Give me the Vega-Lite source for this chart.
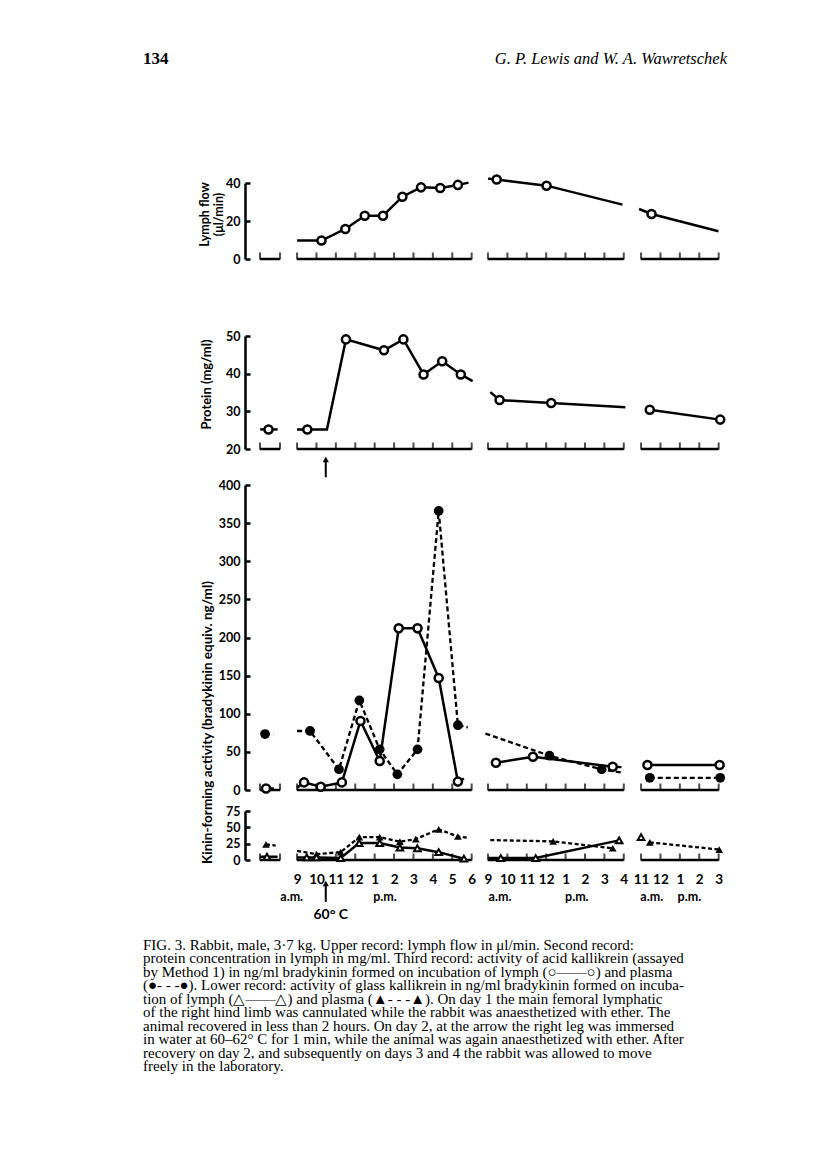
{
 "$schema": "https://vega.github.io/schema/vega-lite/v6.json",
 "background": "white",
 "padding": {"left": 143, "top": 50, "right": 10, "bottom": 10},
 "autosize": {"type": "pad"},
 "spacing": 0,
 "bounds": "flush",
 "resolve": {"scale": {"x": "independent", "y": "independent"}},
 "config": {
  "view": {"stroke": null},
  "axis": {"grid": false, "labelFont": "Lato", "titleFont": "Lato", "labelColor": "black", "titleColor": "black", "domainColor": "black", "tickColor": "black", "labelOverlap": false, "labelBound": false}
 },
 "datasets": {
  "seg": [{"t": -1.91, "t2": -0.88}, {"t": 0, "t2": 9}, {"t": 9.84, "t2": 16.84}, {"t": 17.73, "t2": 21.73}],
  "ticks": [{"t": -1.91}, {"t": -0.88}, {"t": 0}, {"t": 1}, {"t": 2}, {"t": 3}, {"t": 4}, {"t": 5}, {"t": 6}, {"t": 7}, {"t": 8}, {"t": 9}, {"t": 9.84}, {"t": 10.84}, {"t": 11.84}, {"t": 12.84}, {"t": 13.84}, {"t": 14.84}, {"t": 15.84}, {"t": 16.84}, {"t": 17.73}, {"t": 18.73}, {"t": 19.73}, {"t": 20.73}, {"t": 21.73}],
  "heat": [{"t": 1.48, "note": "60° C"}],
  "lymph": [
   {"d": 2, "t": 0, "v": 9.7, "m": 0}, {"d": 2, "t": 1.26, "v": 9.7, "m": 1}, {"d": 2, "t": 2.49, "v": 15.8, "m": 1}, {"d": 2, "t": 3.49, "v": 22.8, "m": 1}, {"d": 2, "t": 4.43, "v": 22.8, "m": 1}, {"d": 2, "t": 5.43, "v": 32.8, "m": 1}, {"d": 2, "t": 6.39, "v": 37.7, "m": 1}, {"d": 2, "t": 7.38, "v": 37.4, "m": 1}, {"d": 2, "t": 8.29, "v": 39, "m": 1}, {"d": 2, "t": 8.84, "v": 40.2, "m": 0},
   {"d": 3, "t": 9.84, "v": 42.3, "m": 0}, {"d": 3, "t": 10.29, "v": 41.8, "m": 1}, {"d": 3, "t": 12.86, "v": 38.6, "m": 1}, {"d": 3, "t": 16.77, "v": 28.6, "m": 0},
   {"d": 4, "t": 17.63, "v": 26.3, "m": 0}, {"d": 4, "t": 18.27, "v": 23.7, "m": 1}, {"d": 4, "t": 21.72, "v": 14.6, "m": 0}
  ],
  "protein": [
   {"d": 1, "t": -1.9, "v": 25.2, "m": 0}, {"d": 1, "t": -1.47, "v": 25.2, "m": 1}, {"d": 1, "t": -1.0, "v": 25.2, "m": 0},
   {"d": 2, "t": 0, "v": 25.2, "m": 0}, {"d": 2, "t": 0.53, "v": 25.2, "m": 1}, {"d": 2, "t": 1.54, "v": 25.2, "m": 0}, {"d": 2, "t": 2.52, "v": 49.1, "m": 1}, {"d": 2, "t": 4.48, "v": 46.2, "m": 1}, {"d": 2, "t": 5.48, "v": 49.1, "m": 1}, {"d": 2, "t": 6.52, "v": 39.8, "m": 1}, {"d": 2, "t": 7.48, "v": 43.3, "m": 1}, {"d": 2, "t": 8.44, "v": 39.8, "m": 1}, {"d": 2, "t": 9.05, "v": 38.0, "m": 0},
   {"d": 3, "t": 9.96, "v": 35.1, "m": 0}, {"d": 3, "t": 10.44, "v": 33.0, "m": 1}, {"d": 3, "t": 13.1, "v": 32.2, "m": 1}, {"d": 3, "t": 16.92, "v": 31.1, "m": 0},
   {"d": 4, "t": 18.18, "v": 30.4, "m": 1}, {"d": 4, "t": 21.81, "v": 27.8, "m": 1}
  ],
  "kl": [
   {"d": 1, "t": -1.6, "v": 2, "m": 1}, {"d": 1, "t": -1.2, "v": 2, "m": 0},
   {"d": 2, "t": 0, "v": 3, "m": 0}, {"d": 2, "t": 0.36, "v": 10, "m": 1}, {"d": 2, "t": 1.22, "v": 4.3, "m": 1}, {"d": 2, "t": 2.31, "v": 10, "m": 1}, {"d": 2, "t": 3.27, "v": 90.5, "m": 1}, {"d": 2, "t": 4.26, "v": 38, "m": 1}, {"d": 2, "t": 5.24, "v": 212, "m": 1}, {"d": 2, "t": 6.21, "v": 212, "m": 1}, {"d": 2, "t": 7.3, "v": 147, "m": 1}, {"d": 2, "t": 8.29, "v": 11, "m": 1}, {"d": 2, "t": 8.6, "v": 15, "m": 0},
   {"d": 3, "t": 10.25, "v": 35.8, "m": 1}, {"d": 3, "t": 12.16, "v": 43.7, "m": 1}, {"d": 3, "t": 16.27, "v": 30.6, "m": 1}, {"d": 3, "t": 16.72, "v": 30, "m": 0},
   {"d": 4, "t": 18.06, "v": 32.8, "m": 1}, {"d": 4, "t": 21.78, "v": 32.8, "m": 1}
  ],
  "kp": [
   {"d": 1, "t": -1.65, "v": 73.4, "m": 1}, {"d": 1, "t": -1.23, "v": 73.4, "m": 0},
   {"d": 2, "t": 0, "v": 77.4, "m": 0}, {"d": 2, "t": 0.67, "v": 77.4, "m": 1}, {"d": 2, "t": 2.16, "v": 27, "m": 1}, {"d": 2, "t": 3.21, "v": 117.5, "m": 1}, {"d": 2, "t": 4.26, "v": 53.3, "m": 1}, {"d": 2, "t": 5.17, "v": 20.5, "m": 1}, {"d": 2, "t": 6.21, "v": 53.3, "m": 1}, {"d": 2, "t": 7.3, "v": 366, "m": 1}, {"d": 2, "t": 8.29, "v": 85, "m": 1}, {"d": 2, "t": 8.8, "v": 82, "m": 0},
   {"d": 3, "t": 9.71, "v": 74, "m": 0}, {"d": 3, "t": 13.01, "v": 45, "m": 1}, {"d": 3, "t": 15.7, "v": 27, "m": 1}, {"d": 3, "t": 16.72, "v": 23, "m": 0},
   {"d": 4, "t": 18.18, "v": 16, "m": 1}, {"d": 4, "t": 21.81, "v": 16, "m": 1}
  ],
  "gl": [
   {"d": 1, "t": -1.9, "v": 5, "m": 0}, {"d": 1, "t": -1.55, "v": 5, "m": 1}, {"d": 1, "t": -1.0, "v": 5, "m": 0},
   {"d": 2, "t": 0, "v": 4, "m": 0}, {"d": 2, "t": 0.5, "v": 4, "m": 1}, {"d": 2, "t": 1.0, "v": 4, "m": 1}, {"d": 2, "t": 2.25, "v": 3, "m": 1}, {"d": 2, "t": 3.2, "v": 26, "m": 1}, {"d": 2, "t": 4.26, "v": 26, "m": 1}, {"d": 2, "t": 5.3, "v": 19, "m": 1}, {"d": 2, "t": 6.2, "v": 18, "m": 1}, {"d": 2, "t": 7.3, "v": 12, "m": 1}, {"d": 2, "t": 8.6, "v": 2, "m": 1},
   {"d": 3, "t": 9.84, "v": 3, "m": 0}, {"d": 3, "t": 10.5, "v": 3, "m": 1}, {"d": 3, "t": 12.3, "v": 3, "m": 1}, {"d": 3, "t": 16.6, "v": 30, "m": 1},
   {"d": 4, "t": 17.73, "v": 35, "m": 1}
  ],
  "gp": [
   {"d": 1, "t": -1.6, "v": 24, "m": 1}, {"d": 1, "t": -1.1, "v": 22, "m": 0},
   {"d": 2, "t": 0, "v": 14, "m": 0}, {"d": 2, "t": 1.0, "v": 9, "m": 1}, {"d": 2, "t": 2.25, "v": 12, "m": 1}, {"d": 2, "t": 3.21, "v": 35, "m": 1}, {"d": 2, "t": 4.26, "v": 35, "m": 1}, {"d": 2, "t": 5.3, "v": 28, "m": 1}, {"d": 2, "t": 6.12, "v": 32, "m": 1}, {"d": 2, "t": 7.3, "v": 47, "m": 1}, {"d": 2, "t": 8.29, "v": 36, "m": 1}, {"d": 2, "t": 8.84, "v": 34, "m": 0},
   {"d": 3, "t": 9.96, "v": 30.5, "m": 0}, {"d": 3, "t": 13.2, "v": 28.5, "m": 1}, {"d": 3, "t": 16.27, "v": 18, "m": 1},
   {"d": 4, "t": 18.18, "v": 27, "m": 1}, {"d": 4, "t": 21.76, "v": 16, "m": 1}
  ],
  "ampm": [{"t": -0.275, "lab": "a.m."}, {"t": 4.53, "lab": "p.m."}, {"t": 10.46, "lab": "a.m."}, {"t": 14.42, "lab": "p.m."}, {"t": 18.28, "lab": "a.m."}, {"t": 20.22, "lab": "p.m."}],
  "hdr": [{"side": 0, "label": "134"}, {"side": 1, "label": "G. P. Lewis and W. A. Wawretschek"}],
  "cap": [
   {"line": 1, "text": "FIG. 3.  Rabbit, male, 3·7 kg.  Upper record: lymph flow in μl/min.  Second record:"},
   {"line": 2, "text": "protein concentration in lymph in mg/ml.  Third record: activity of acid kallikrein (assayed"},
   {"line": 3, "text": "by Method 1) in ng/ml bradykinin formed on incubation of lymph (○——○) and plasma"},
   {"line": 4, "text": "(●- - -●).  Lower record: activity of glass kallikrein in ng/ml bradykinin formed on incuba-"},
   {"line": 5, "text": "tion of lymph (△——△) and plasma (▲- - -▲).  On day 1 the main femoral lymphatic"},
   {"line": 6, "text": "of the right hind limb was cannulated while the rabbit was anaesthetized with ether.  The"},
   {"line": 7, "text": "animal recovered in less than 2 hours.  On day 2, at the arrow the right leg was immersed"},
   {"line": 8, "text": "in water at 60–62° C for 1 min, while the animal was again anaesthetized with ether.  After"},
   {"line": 9, "text": "recovery on day 2, and subsequently on days 3 and 4 the rabbit was allowed to move"},
   {"line": 10, "text": "freely in the laboratory."}
  ]
 },
 "vconcat": [
  {
   "width": 584, "height": 14,
   "data": {"name": "hdr"},
   "encoding": {
    "x": {"field": "side", "type": "quantitative", "scale": {"domain": [0, 1]}, "axis": null},
    "y": {"datum": 0, "type": "quantitative", "scale": {"domain": [-1, 1]}, "axis": null},
    "text": {"field": "label"}
   },
   "layer": [
    {"transform": [{"filter": "datum.side == 0"}], "mark": {"type": "text", "align": "left", "baseline": "middle", "font": "Liberation Serif", "fontSize": 17, "fontWeight": "bold", "color": "black"}},
    {"transform": [{"filter": "datum.side == 1"}], "mark": {"type": "text", "align": "right", "baseline": "middle", "font": "Liberation Serif", "fontSize": 16.5, "fontStyle": "italic", "color": "black"}}
   ]
  },
  {"width": 584, "height": 117, "data": {"values": [{"k": 0}]}, "mark": {"type": "point", "opacity": 0}, "encoding": {}},
  {
   "width": 584, "height": 76,
   "encoding": {"x": {"field": "t", "type": "quantitative", "scale": {"domain": [-7.94, 22.16]}, "axis": null}},
   "layer": [
    {"data": {"name": "seg"}, "mark": {"type": "rule", "strokeWidth": 2.5, "color": "black"},
     "encoding": {"x2": {"field": "t2"}, "y": {"datum": 0, "type": "quantitative", "scale": {"domain": [0, 40]}}}},
    {"data": {"name": "ticks"}, "mark": {"type": "tick", "orient": "vertical", "size": 7, "thickness": 2, "yOffset": -3, "color": "black"},
     "encoding": {"y": {"datum": 0, "type": "quantitative", "scale": {"domain": [0, 40]}}}},
    {"data": {"name": "lymph"}, "mark": {"type": "line", "color": "black", "strokeWidth": 2.5},
     "encoding": {
      "y": {"field": "v", "type": "quantitative", "scale": {"domain": [0, 40]},
       "axis": {"values": [0, 20, 40], "tickCount": 3, "labelOverlap": false, "labelSeparation": 0, "title": ["Lymph flow", "(μl/min)"], "offset": -102, "domainWidth": 2.5, "tickWidth": 2.5, "tickSize": -5, "labelPadding": 10, "labelFontSize": 12.5, "labelFontWeight": "bold", "labelFlush": false, "titleFontSize": 12.5, "titleFontWeight": "bold", "titleBaseline": "middle", "titleAlign": "center", "titleX": -41, "titleY": 31, "titleLineHeight": 14}},
      "detail": {"field": "d"}}},
    {"data": {"name": "lymph"}, "transform": [{"filter": "datum.m == 1"}], "mark": {"type": "point", "shape": "circle", "filled": true, "fill": "white", "stroke": "black", "strokeWidth": 2.5, "size": 65, "opacity": 1},
     "encoding": {"y": {"field": "v", "type": "quantitative", "scale": {"domain": [0, 40]}}}}
   ]
  },
  {"width": 584, "height": 77, "data": {"values": [{"k": 0}]}, "mark": {"type": "point", "opacity": 0}, "encoding": {}},
  {
   "width": 584, "height": 113,
   "encoding": {"x": {"field": "t", "type": "quantitative", "scale": {"domain": [-7.94, 22.16]}, "axis": null}},
   "layer": [
    {"data": {"name": "seg"}, "mark": {"type": "rule", "strokeWidth": 2.5, "color": "black"},
     "encoding": {"x2": {"field": "t2"}, "y": {"datum": 20, "type": "quantitative", "scale": {"domain": [20, 50]}}}},
    {"data": {"name": "ticks"}, "mark": {"type": "tick", "orient": "vertical", "size": 7, "thickness": 2, "yOffset": -3, "color": "black"},
     "encoding": {"y": {"datum": 20, "type": "quantitative", "scale": {"domain": [20, 50]}}}},
    {"data": {"name": "protein"}, "mark": {"type": "line", "color": "black", "strokeWidth": 2.5},
     "encoding": {
      "y": {"field": "v", "type": "quantitative", "scale": {"domain": [20, 50]},
       "axis": {"values": [20, 30, 40, 50], "tickCount": 4, "labelOverlap": false, "labelSeparation": 0, "title": "Protein   (mg/ml)", "offset": -102, "domainWidth": 2.5, "tickWidth": 2.5, "tickSize": -5, "labelPadding": 10, "labelFontSize": 12.5, "labelFontWeight": "bold", "labelFlush": false, "titleFontSize": 13, "titleFontWeight": "bold", "titleBaseline": "middle", "titleAlign": "center", "titleX": -39, "titleY": 48}},
      "detail": {"field": "d"}}},
    {"data": {"name": "protein"}, "transform": [{"filter": "datum.m == 1"}], "mark": {"type": "point", "shape": "circle", "filled": true, "fill": "white", "stroke": "black", "strokeWidth": 2.5, "size": 65, "opacity": 1},
     "encoding": {"y": {"field": "v", "type": "quantitative", "scale": {"domain": [20, 50]}}}},
    {"data": {"name": "heat"}, "mark": {"type": "rule", "strokeWidth": 2, "color": "black"},
     "encoding": {"y": {"datum": 12.5, "type": "quantitative", "scale": {"domain": [20, 50]}}, "y2": {"datum": 16.8}}},
    {"data": {"name": "heat"}, "mark": {"type": "point", "shape": "triangle-up", "filled": true, "color": "black", "size": 40, "opacity": 1},
     "encoding": {"y": {"datum": 17.2, "type": "quantitative", "scale": {"domain": [20, 50]}}}}
   ]
  },
  {"width": 584, "height": 36, "data": {"values": [{"k": 0}]}, "mark": {"type": "point", "opacity": 0}, "encoding": {}},
  {
   "width": 584, "height": 305,
   "encoding": {"x": {"field": "t", "type": "quantitative", "scale": {"domain": [-7.94, 22.16]}, "axis": null}},
   "layer": [
    {"data": {"name": "seg"}, "mark": {"type": "rule", "strokeWidth": 2.5, "color": "black"},
     "encoding": {"x2": {"field": "t2"}, "y": {"datum": 0, "type": "quantitative", "scale": {"domain": [0, 400]}}}},
    {"data": {"name": "ticks"}, "mark": {"type": "tick", "orient": "vertical", "size": 7, "thickness": 2, "yOffset": -3, "color": "black"},
     "encoding": {"y": {"datum": 0, "type": "quantitative", "scale": {"domain": [0, 400]}}}},
    {"data": {"name": "kp"}, "mark": {"type": "line", "color": "black", "strokeWidth": 2.3, "strokeDash": [5, 3]},
     "encoding": {"y": {"field": "v", "type": "quantitative", "scale": {"domain": [0, 400]}}, "detail": {"field": "d"}}},
    {"data": {"name": "kl"}, "mark": {"type": "line", "color": "black", "strokeWidth": 2.5},
     "encoding": {
      "y": {"field": "v", "type": "quantitative", "scale": {"domain": [0, 400]},
       "axis": {"values": [0, 50, 100, 150, 200, 250, 300, 350, 400], "tickCount": 9, "labelOverlap": false, "labelSeparation": 0, "title": "Kinin-forming activity (bradykinin equiv. ng/ml)", "offset": -102, "domainWidth": 2.5, "tickWidth": 2.5, "tickSize": -5, "labelPadding": 10, "labelFontSize": 12.5, "labelFontWeight": "bold", "labelFlush": false, "titleFontSize": 13.5, "titleFontWeight": "bold", "titleBaseline": "middle", "titleAlign": "center", "titleX": -38, "titleY": 237}},
      "detail": {"field": "d"}}},
    {"data": {"name": "kp"}, "transform": [{"filter": "datum.m == 1"}], "mark": {"type": "point", "shape": "circle", "filled": true, "color": "black", "size": 95, "opacity": 1},
     "encoding": {"y": {"field": "v", "type": "quantitative", "scale": {"domain": [0, 400]}}}},
    {"data": {"name": "kl"}, "transform": [{"filter": "datum.m == 1"}], "mark": {"type": "point", "shape": "circle", "filled": true, "fill": "white", "stroke": "black", "strokeWidth": 2.5, "size": 65, "opacity": 1},
     "encoding": {"y": {"field": "v", "type": "quantitative", "scale": {"domain": [0, 400]}}}}
   ]
  },
  {"width": 584, "height": 21, "data": {"values": [{"k": 0}]}, "mark": {"type": "point", "opacity": 0}, "encoding": {}},
  {
   "width": 584, "height": 49,
   "encoding": {"x": {"field": "t", "type": "quantitative", "scale": {"domain": [-7.94, 22.16]},
     "axis": {"values": [0, 1, 2, 3, 4, 5, 6, 7, 8, 9, 9.84, 10.84, 11.84, 12.84, 13.84, 14.84, 15.84, 16.84, 17.73, 18.73, 19.73, 20.73, 21.73],
      "labelExpr": "datum.value < 9.5 ? (datum.value + 9 > 12 ? datum.value - 3 : datum.value + 9) : datum.value < 17.2 ? (round(datum.value - 0.84) > 12 ? round(datum.value - 0.84) - 12 : round(datum.value - 0.84)) : (round(datum.value - 6.73) > 12 ? round(datum.value - 6.73) - 12 : round(datum.value - 6.73))",
      "domain": false, "ticks": false, "labelPadding": 12, "labelFontSize": 13.5, "labelFontWeight": "bold", "labelFlush": false, "labelOverlap": false, "title": null}}},
   "layer": [
    {"data": {"name": "seg"}, "mark": {"type": "rule", "strokeWidth": 2.5, "color": "black"},
     "encoding": {"x2": {"field": "t2"}, "y": {"datum": 0, "type": "quantitative", "scale": {"domain": [0, 75]}}}},
    {"data": {"name": "ticks"}, "mark": {"type": "tick", "orient": "vertical", "size": 7, "thickness": 2, "yOffset": -3, "color": "black"},
     "encoding": {"y": {"datum": 0, "type": "quantitative", "scale": {"domain": [0, 75]}}}},
    {"data": {"name": "gp"}, "mark": {"type": "line", "color": "black", "strokeWidth": 2.3, "strokeDash": [4, 2.5]},
     "encoding": {"y": {"field": "v", "type": "quantitative", "scale": {"domain": [0, 75]}}, "detail": {"field": "d"}}},
    {"data": {"name": "gl"}, "mark": {"type": "line", "color": "black", "strokeWidth": 2.5},
     "encoding": {
      "y": {"field": "v", "type": "quantitative", "scale": {"domain": [0, 75]},
       "axis": {"values": [0, 25, 50, 75], "tickCount": 4, "labelOverlap": false, "labelSeparation": 0, "title": null, "offset": -102, "domainWidth": 2.5, "tickWidth": 2.5, "tickSize": -5, "labelPadding": 10, "labelFontSize": 12.5, "labelFontWeight": "bold", "labelFlush": false}},
      "detail": {"field": "d"}}},
    {"data": {"name": "gp"}, "transform": [{"filter": "datum.m == 1"}], "mark": {"type": "point", "shape": "triangle-up", "filled": true, "color": "black", "size": 60, "opacity": 1},
     "encoding": {"y": {"field": "v", "type": "quantitative", "scale": {"domain": [0, 75]}}}},
    {"data": {"name": "gl"}, "transform": [{"filter": "datum.m == 1"}], "mark": {"type": "point", "shape": "triangle-up", "filled": true, "fill": "white", "stroke": "black", "strokeWidth": 2, "size": 45, "opacity": 1},
     "encoding": {"y": {"field": "v", "type": "quantitative", "scale": {"domain": [0, 75]}}}},
    {"data": {"name": "ampm"}, "mark": {"type": "text", "font": "Lato", "fontSize": 12.5, "fontWeight": "bold", "color": "black", "baseline": "middle"},
     "encoding": {"y": {"datum": -56.7, "type": "quantitative", "scale": {"domain": [0, 75]}}, "text": {"field": "lab"}}},
    {"data": {"name": "heat"}, "mark": {"type": "rule", "strokeWidth": 2, "color": "black"},
     "encoding": {"y": {"datum": -64, "type": "quantitative", "scale": {"domain": [0, 75]}}, "y2": {"datum": -38}}},
    {"data": {"name": "heat"}, "mark": {"type": "point", "shape": "triangle-up", "filled": true, "color": "black", "size": 40, "opacity": 1},
     "encoding": {"y": {"datum": -36, "type": "quantitative", "scale": {"domain": [0, 75]}}}},
    {"data": {"name": "heat"}, "mark": {"type": "text", "font": "Lato", "fontSize": 14, "fontWeight": "bold", "color": "black", "baseline": "middle", "dx": 5},
     "encoding": {"y": {"datum": -84, "type": "quantitative", "scale": {"domain": [0, 75]}}, "text": {"field": "note"}}}
   ]
  },
  {"width": 584, "height": 85, "data": {"values": [{"k": 0}]}, "mark": {"type": "point", "opacity": 0}, "encoding": {}},
  {
   "width": 584, "height": 121,
   "data": {"name": "cap"},
   "mark": {"type": "text", "align": "left", "baseline": "middle", "font": "Liberation Serif", "fontSize": 15, "color": "black"},
   "encoding": {
    "x": {"datum": 0, "type": "quantitative", "scale": {"domain": [0, 1]}, "axis": null},
    "y": {"field": "line", "type": "quantitative", "scale": {"domain": [1, 10], "reverse": true}, "axis": null},
    "text": {"field": "text"}
   }
  }
 ]
}
